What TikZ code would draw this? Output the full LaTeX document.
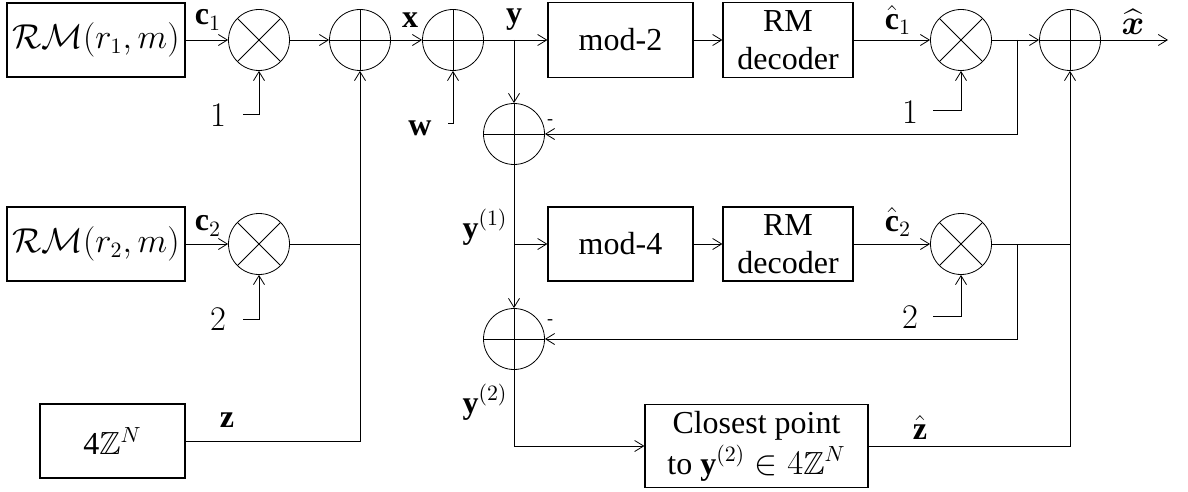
\documentclass[tikz,border=0pt]{standalone}
\usepackage{amsmath,amssymb}
\usepackage{fontspec}
\setmainfont{Liberation Serif}
\usetikzlibrary{arrows.meta,positioning,calc}

\begin{document}
\begin{tikzpicture}[x=0.5pt,y=-0.5pt,>={Straight Barb[length=4.5pt,width=5.5pt]},
  every node/.style={font=\fontsize{16}{19}\selectfont},
  blk/.style={draw,line width=0.6pt,inner sep=1pt,align=center},
  mult/.style={circle,draw,inner sep=0pt,minimum size=30.5pt,
    path picture={\draw (path picture bounding box.north west) -- (path picture bounding box.south east)
      (path picture bounding box.north east) -- (path picture bounding box.south west);}},
  adder/.style={circle,draw,inner sep=0pt,minimum size=30.5pt,
    path picture={\draw (path picture bounding box.north) -- (path picture bounding box.south)
      (path picture bounding box.west) -- (path picture bounding box.east);}},
  lbl/.style={inner sep=0pt},
  minus/.style={inner sep=0pt,font=\fontsize{9}{10}\selectfont}]
\useasboundingbox (0,0) rectangle (1188,492);

\node[blk,minimum width=89pt,minimum height=37pt] (rm1) at (96,40) {$\mathcal{RM}(r_1,m)$};
\node[blk,minimum width=89pt,minimum height=37pt] (rm2) at (96,244) {$\mathcal{RM}(r_2,m)$};
\node[blk,minimum width=72.5pt,minimum height=37pt] (zn) at (112.5,441) {4$\mathbb{Z}^N$};
\node[mult] (m1) at (259,40) {};
\node[mult] (m2) at (259,244) {};
\node[adder] (a1) at (360,40) {};
\node[adder] (a2) at (453,40) {};
\node[adder] (s1) at (514,134) {};
\node[adder] (s2) at (514,339) {};
\node[blk,minimum width=72.5pt,minimum height=37.5pt] (mod2) at (620.5,40) {mod-2};
\node[blk,minimum width=65pt,minimum height=37.5pt] (dec1) at (788,40) {RM\\decoder};
\node[blk,minimum width=72.5pt,minimum height=37pt] (mod4) at (620.5,244) {mod-4};
\node[blk,minimum width=65pt,minimum height=37pt] (dec2) at (788,244) {RM\\decoder};
\node[mult] (m3) at (961,40) {};
\node[mult] (m4) at (961,244) {};
\node[adder] (a3) at (1070,40) {};
\node[blk,minimum width=111.5pt,minimum height=41.5pt] (cp) at (756.5,446) {Closest point\\[1.5pt]to $\mathbf{y}^{(2)}\in 4\mathbb{Z}^N$};

\coordinate (ybr) at (514,40);
\coordinate (y1br) at (514,244);
\coordinate (fb1) at (1017,40);
\coordinate (fb2) at (1017,244);
\coordinate (xo) at (1168,40);
\coordinate (in1) at (243,114);
\coordinate (in2) at (243,319);
\coordinate (inw) at (448,123);
\coordinate (in3) at (933,110);
\coordinate (in4) at (933,316);

\node[lbl] (c1lbl) at (208,20) {$\mathbf{c}_1$};
\node[lbl] (c2lbl) at (208,226) {$\mathbf{c}_2$};
\node[lbl] (zlbl) at (227,420) {$\mathbf{z}$};
\node[lbl] (xlbl) at (410,20) {$\mathbf{x}$};
\node[lbl] (ylbl) at (514,20) {$\mathbf{y}$};
\node[lbl] (wlbl) at (420,128) {$\mathbf{w}$};
\node[lbl] (y1lbl) at (485,227) {$\mathbf{y}^{(1)}$};
\node[lbl] (y2lbl) at (485,402) {$\mathbf{y}^{(2)}$};
\node[lbl] (one1) at (218,115) {$1$};
\node[lbl] (two1) at (218,319) {$2$};
\node[lbl] (one2) at (910,112) {$1$};
\node[lbl] (two2) at (910,317) {$2$};
\node[lbl] (c1hat) at (898,20) {$\hat{\mathbf{c}}_1$};
\node[lbl] (c2hat) at (898,222) {$\hat{\mathbf{c}}_2$};
\node[lbl] (zhat) at (920,427) {$\hat{\mathbf{z}}$};
\node[lbl] (xhat) at (1133,22) {$\widehat{\boldsymbol{x}}$};
\node[minus] (neg1) at (550,122) {-};
\node[minus] (neg2) at (550,322) {-};

\draw[->] (rm1) -- (m1);
\draw[->] (m1) -- (a1);
\draw[->] (a1) -- (a2);
\draw[->] (a2) -- (mod2);
\draw[->] (mod2) -- (dec1);
\draw[->] (dec1) -- (m3);
\draw[->] (m3) -- (a3);
\draw[->] (a3) -- (xo);
\draw[->] (rm2) -- (m2);
\draw (m2) -- (m2 -| a1);
\draw[->] (zn) -| (a1);
\draw[->] (ybr) -- (s1);
\draw (s1) -- (y1br);
\draw[->] (y1br) -- (mod4);
\draw[->] (y1br) -- (s2);
\draw[->] (s2) |- (cp);
\draw[->] (mod4) -- (dec2);
\draw[->] (dec2) -- (m4);
\draw (m4) -- (m4 -| a3);
\draw[->] (cp) -| (a3);
\draw[->] (fb1) |- (s1);
\draw[->] (fb2) |- (s2);
\draw[->] (in1) -| (m1);
\draw[->] (in2) -| (m2);
\draw[->] (inw) -| (a2);
\draw[->] (in3) -| (m3);
\draw[->] (in4) -| (m4);
\end{tikzpicture}
\end{document}
